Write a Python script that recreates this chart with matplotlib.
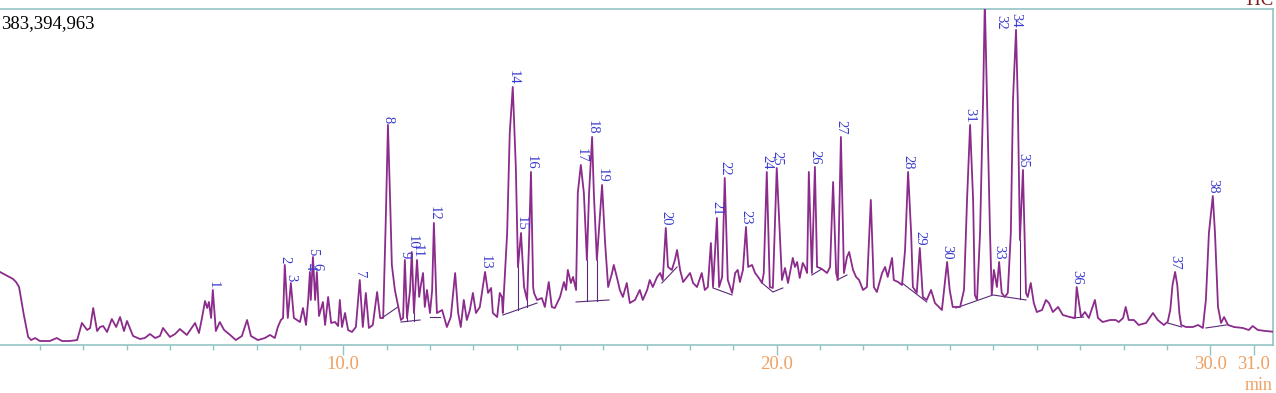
import numpy as np
import matplotlib
matplotlib.use("Agg")
import matplotlib.pyplot as plt
from matplotlib.ticker import FixedLocator

# TIC trace: (retention time [min], intensity [10^6 counts])
trace = [
    (2.08, 82.9), (2.38, 74.9), (2.45, 71.4), (2.52, 65.7), (2.63, 33.7), (2.73, 8.6), (2.80, 5.1),
    (2.89, 7.4), (3.00, 4.0), (3.23, 4.0), (3.39, 7.4), (3.51, 4.0), (3.69, 4.0), (3.86, 5.1),
    (3.97, 24.6), (4.09, 16.6), (4.16, 18.9), (4.23, 41.7), (4.32, 15.4), (4.39, 20.0), (4.46, 21.1),
    (4.55, 14.3), (4.66, 29.1), (4.76, 20.0), (4.85, 31.4), (4.94, 15.4), (5.01, 26.9), (5.15, 9.7),
    (5.31, 6.3), (5.42, 7.4), (5.54, 12.0), (5.66, 7.4), (5.77, 9.7),
    (5.84, 18.9), (6.00, 8.6), (6.12, 12.0), (6.23, 17.7), (6.39, 10.9), (6.58, 24.6), (6.67, 13.1),
    (6.74, 30.3), (6.81, 49.7), (6.86, 41.7), (6.90, 48.6), (6.95, 30.3), (6.99, 62.3), (7.06, 15.4),
    (7.15, 25.7), (7.25, 16.6), (7.39, 10.9), (7.52, 5.1), (7.66, 9.7), (7.78, 28.0), (7.87, 9.7),
    (8.03, 5.1), (8.19, 7.4), (8.31, 10.9), (8.42, 7.4), (8.49, 20.0), (8.56, 28.0), (8.61, 30.3),
    (8.65, 90.9), (8.72, 30.3), (8.79, 70.3), (8.86, 30.3), (8.93, 28.0), (9.00, 25.7), (9.07, 41.7),
    (9.14, 22.3), (9.19, 50.9), (9.23, 82.9), (9.25, 50.9), (9.30, 100.0), (9.35, 50.9), (9.39, 82.9),
    (9.44, 32.6),
    (9.53, 48.6), (9.58, 22.3), (9.65, 54.3), (9.72, 24.6), (9.81, 25.7), (9.88, 21.1), (9.92, 50.9),
    (9.97, 20.0), (10.04, 36.0), (10.11, 16.6), (10.20, 14.3), (10.29, 20.0), (10.38, 73.7),
    (10.45, 20.0), (10.52, 58.9), (10.59, 18.9), (10.68, 22.3), (10.78, 60.0), (10.85, 30.3),
    (10.92, 30.3), (10.98, 142.3), (11.03, 250.9), (11.08, 165.2), (11.12, 90.9), (11.19, 62.3),
    (11.26, 45.1), (11.33, 28.0), (11.38, 30.3), (11.42, 96.6), (11.47, 30.3), (11.54, 62.3),
    (11.58, 105.7), (11.63, 36.0), (11.70, 96.6), (11.75, 54.3), (11.79, 68.0), (11.84, 81.7),
    (11.88, 42.9), (11.93, 62.3), (12.00, 36.0), (12.05, 62.3), (12.09, 138.9), (12.14, 62.3),
    (12.16, 36.0), (12.28, 39.4), (12.39, 20.0), (12.48, 31.4), (12.58, 81.7), (12.65, 36.0),
    (12.71, 20.0), (12.78, 50.9), (12.85, 28.0), (12.92, 39.4), (12.99, 58.9), (13.06, 36.0),
    (13.15, 42.9),
    (13.27, 82.9), (13.34, 58.9), (13.41, 64.6), (13.45, 36.0), (13.55, 31.4), (13.61, 58.9),
    (13.66, 54.3), (13.68, 36.0), (13.78, 127.4), (13.84, 241.7), (13.91, 294.3), (13.98, 202.9),
    (14.03, 88.6), (14.10, 127.4), (14.17, 65.7), (14.24, 50.9), (14.28, 108.0), (14.33, 197.2),
    (14.38, 65.7), (14.40, 58.9), (14.47, 50.9), (14.58, 53.1), (14.65, 42.9), (14.74, 71.4),
    (14.81, 42.9), (14.88, 41.7), (15.00, 54.3), (15.09, 71.4), (15.14, 62.3), (15.18, 85.2),
    (15.25, 70.3), (15.30, 77.2), (15.37, 62.3), (15.41, 173.2), (15.48, 205.2), (15.55, 173.2),
    (15.62, 96.6), (15.67, 173.2), (15.74, 237.2), (15.78, 173.2), (15.85, 96.6), (15.92, 145.7),
    (15.97, 182.3), (16.04, 116.0), (16.11, 65.7), (16.20, 81.7), (16.24, 90.9), (16.31, 77.2),
    (16.38, 62.3), (16.45, 54.3), (16.54, 70.3), (16.61, 47.4), (16.73, 50.9), (16.84, 62.3),
    (16.91, 50.9), (17.01, 62.3), (17.07, 73.7), (17.14, 65.7), (17.24, 77.2), (17.31, 81.7),
    (17.37, 73.7), (17.44, 133.2), (17.49, 88.6), (17.58, 85.2), (17.65, 96.6), (17.70, 108.0),
    (17.77, 85.2), (17.84, 71.4), (17.93, 77.2), (18.00, 81.7), (18.07, 70.3), (18.16, 65.7),
    (18.27, 81.7), (18.34, 62.3), (18.41, 65.7), (18.48, 116.0), (18.53, 65.7), (18.62, 144.6),
    (18.67, 65.7), (18.74, 77.2), (18.80, 190.3), (18.87, 73.7), (18.97, 58.9), (19.04, 81.7),
    (19.10, 85.2), (19.15, 71.4), (19.22, 85.2), (19.29, 134.3), (19.34, 88.6), (19.43, 90.9),
    (19.50, 81.7), (19.57, 77.2), (19.66, 70.3), (19.70, 81.7), (19.77, 197.2), (19.84, 65.7),
    (19.91, 64.6), (20.00, 201.7), (20.12, 73.7), (20.19, 87.4), (20.26, 70.3), (20.37, 98.9),
    (20.42, 88.6), (20.47, 94.3), (20.53, 76.0),
    (20.60, 93.2), (20.65, 88.6), (20.70, 81.7), (20.74, 197.2), (20.81, 81.7), (20.88, 202.9),
    (20.93, 88.6), (21.00, 87.4), (21.07, 85.2), (21.16, 81.7), (21.23, 88.6), (21.30, 185.7),
    (21.37, 81.7), (21.41, 73.7), (21.48, 237.2), (21.55, 81.7), (21.62, 100.0), (21.67, 105.7),
    (21.76, 85.2), (21.83, 77.2), (21.90, 73.7), (21.99, 62.3), (22.08, 65.7), (22.17, 165.2),
    (22.24, 65.7), (22.31, 60.0), (22.43, 81.7), (22.50, 88.6), (22.56, 77.2), (22.66, 98.9),
    (22.70, 73.7), (22.80, 71.4), (22.89, 68.0), (22.96, 108.0), (23.03, 197.2), (23.10, 127.4),
    (23.14, 65.7), (23.23, 58.9), (23.30, 110.3), (23.37, 54.3), (23.46, 50.9), (23.56, 62.3),
    (23.65, 47.4), (23.81, 39.4), (23.93, 94.3), (23.99, 62.3), (24.06, 42.9), (24.23, 42.9),
    (24.32, 62.3), (24.39, 165.2), (24.46, 250.9), (24.53, 165.2), (24.57, 56.6), (24.62, 50.9),
    (24.69, 127.4), (24.76, 279.5), (24.80, 392.0), (24.85, 279.5), (24.92, 127.4), (24.96, 56.6),
    (25.01, 85.2), (25.08, 65.7), (25.13, 94.3), (25.19, 58.9), (25.26, 54.3), (25.33, 58.9),
    (25.40, 127.4), (25.45, 279.5), (25.52, 359.5), (25.56, 279.5), (25.61, 119.4), (25.68, 199.5),
    (25.75, 58.9), (25.79, 54.3), (25.86, 70.3), (25.93, 47.4), (26.00, 37.1), (26.12, 39.4),
    (26.21, 50.9), (26.28, 47.4), (26.37, 37.1), (26.49, 42.9), (26.60, 33.7), (26.76, 31.4),
    (26.88, 30.3), (26.92, 65.7), (27.02, 31.4), (27.11, 37.1), (27.20, 30.3), (27.34, 50.9),
    (27.41, 30.3), (27.52, 25.7), (27.69, 28.0), (27.82, 28.0),
    (27.89, 25.7), (27.99, 30.3), (28.05, 42.9), (28.12, 28.0), (28.24, 28.0), (28.35, 22.3),
    (28.52, 24.6), (28.68, 36.0), (28.79, 28.0), (28.93, 22.3), (29.02, 26.0), (29.08, 40.0),
    (29.13, 68.0), (29.19, 82.9), (29.24, 68.0), (29.29, 35.0), (29.33, 22.3), (29.44, 20.0),
    (29.60, 20.0), (29.72, 22.3),
    (29.83, 18.9), (29.90, 50.9), (29.97, 127.4), (30.06, 169.7), (30.11, 127.4), (30.18, 42.9),
    (30.25, 24.6), (30.32, 31.4), (30.41, 22.3), (30.55, 20.0), (30.75, 18.9), (30.89, 16.6),
    (30.98, 21.1), (31.10, 16.6), (31.28, 15.4), (31.52, 14.3),
]

# peak numbers and where their labels sit (apex time, apex height)
peak_no = list(range(1, 39))
peak_rt = [6.99, 8.65, 8.79, 9.23, 9.30, 9.39, 10.38, 11.03, 11.42, 11.58,
           11.70, 12.09, 13.27, 13.91, 14.10, 14.33, 15.48, 15.74, 15.97, 17.44,
           18.62, 18.80, 19.29, 19.77, 20.00, 20.88, 21.48, 23.03, 23.30, 23.93,
           24.46, 25.17, 25.13, 25.52, 25.68, 26.92, 29.19, 30.06]
peak_top = [62.3, 90.9, 70.3, 82.9, 100.0, 82.9, 73.7, 250.9, 96.6, 105.7,
            96.6, 138.9, 82.9, 294.3, 127.4, 197.2, 205.2, 237.2, 182.3, 133.2,
            144.6, 190.3, 134.3, 197.2, 201.7, 202.9, 237.2, 197.2, 110.3, 94.3,
            250.9, 358.0, 94.3, 359.5, 199.5, 65.7, 82.9, 169.7]

# integration baselines and drop lines
baselines = [
    [(10.89, 30.3), (11.26, 42.9)],
    [(11.33, 25.7), (11.77, 28.0)],
    [(12.00, 31.4), (12.23, 31.4)],
    [(13.68, 33.7), (14.47, 47.4)],
    [(15.37, 48.6), (16.13, 50.9)],
    [(17.35, 70.3), (17.70, 88.6)],
    [(18.53, 64.6), (18.97, 56.6)],
    [(19.66, 70.3), (19.91, 60.0), (20.14, 64.6)],
    [(20.81, 79.4), (21.04, 86.3)],
    [(21.39, 73.7), (21.62, 79.4)],
    [(22.89, 70.3), (23.46, 48.6)],
    [(24.13, 41.7), (24.99, 56.6), (25.75, 50.9)],
    [(26.83, 30.3), (27.08, 31.4)],
    [(29.02, 24.6), (29.34, 20.0)],
    [(29.90, 18.9), (30.37, 22.3)],
]
drops = [11.47, 11.63, 14.03, 14.24, 15.62, 15.85, 25.61]

full_scale = 383.394963  # 10^6 counts

trace_col = "#8b2b8b"
axis_col = "#93c4c4"
label_col = "#3a3ad0"
tick_col = "#f0a060"

rt, tic = np.array(trace).T

fig = plt.figure(figsize=(12.76, 3.93), dpi=100)
ax = fig.add_axes([0.0, 0.1234, 0.9977, 0.8537])

ax.plot(rt, tic, color=trace_col, lw=1.3, zorder=3)

for seg in baselines:
    bt, bi = np.array(seg).T
    ax.plot(bt, bi, color="#5a2a7a", lw=0.8, zorder=2)
    for d in drops:
        if bt[0] <= d <= bt[-1]:
            ax.plot([d, d], [np.interp(d, bt, bi), np.interp(d, rt, tic)],
                    color="#5a2a7a", lw=0.8, zorder=2)

for n, t, h in zip(peak_no, peak_rt, peak_top):
    ax.annotate(str(n), (t, h), xytext=(0, 1.5), textcoords="offset points",
                rotation=270, ha="center", va="bottom", color=label_col,
                fontsize=10.5, family="Liberation Serif", zorder=4)

ax.set_xlim(2.08, 31.45)
ax.set_ylim(0, full_scale)
ax.set_yticks([])

ax.spines["left"].set_visible(False)
for s in ["top", "bottom", "right"]:
    ax.spines[s].set_color(axis_col)
    ax.spines[s].set_linewidth(1.2)

ax.xaxis.set_major_locator(FixedLocator([10, 20, 30, 31]))
ax.xaxis.set_minor_locator(FixedLocator(range(3, 32)))
ax.set_xticklabels(["10.0", "20.0", "30.0", "31.0"])
ax.tick_params(axis="x", which="major", length=7, width=1, color=axis_col,
               labelcolor=tick_col, labelsize=13.5, pad=1)
ax.tick_params(axis="x", which="minor", length=3.5, width=1, color=axis_col)
for lab in ax.get_xticklabels():
    lab.set_family("Liberation Serif")

fig.text(0.001, 0.9288, "383,394,963", ha="left", va="baseline",
         fontsize=13.5, family="Liberation Serif", color="black")
fig.text(0.9985, 0.987, "TIC", ha="right", va="baseline",
         fontsize=13.5, family="Liberation Serif", color="#7a1a1a")
fig.text(0.9975, 0.008, "min", ha="right", va="baseline",
         fontsize=13, family="Liberation Serif", color=tick_col)

fig.savefig("out.png", dpi=100)
